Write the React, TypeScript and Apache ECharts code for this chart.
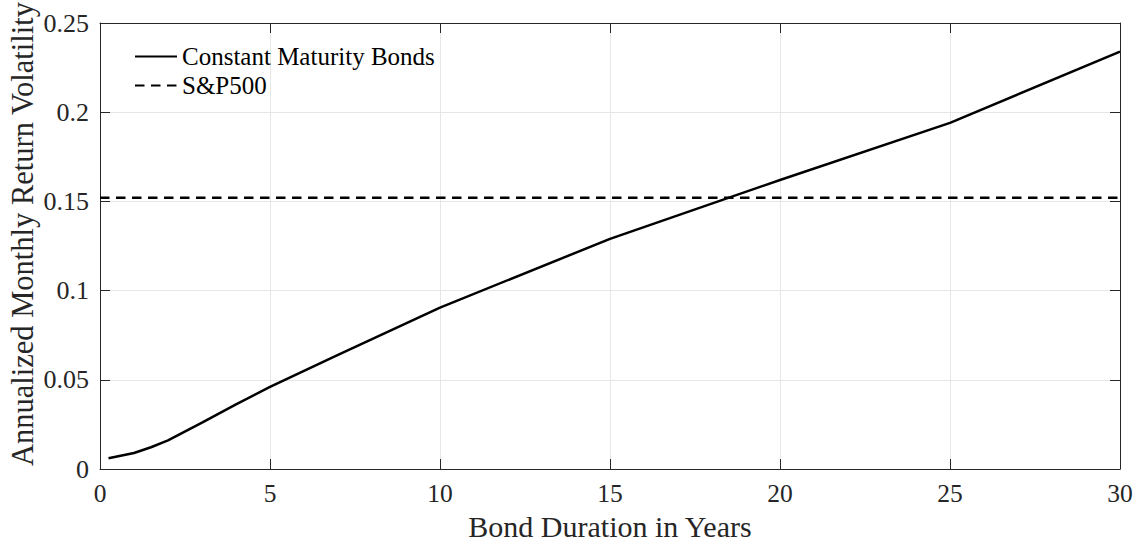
import React, { useEffect, useRef } from "react";
import * as echarts from "echarts";

const durations = [0.25, 0.5, 1, 1.5, 2, 3, 4, 5, 7, 10, 15, 20, 25, 30];
const bondVol = [0.006, 0.007, 0.009, 0.0122, 0.016, 0.026, 0.0362, 0.046, 0.064, 0.0905, 0.129, 0.162, 0.194, 0.234];
const spX = [0, 30];
const spVol = [0.152, 0.152];
const xTicks = [0, 5, 10, 15, 20, 25, 30];
const yTicks = [0, 0.05, 0.1, 0.15, 0.2, 0.25];
const seriesNames = ["Constant Maturity Bonds", "S&P500"];

const FONT = "Liberation Serif";

export default function App() {
  const ref = useRef<HTMLDivElement>(null);
  useEffect(() => {
    const chart = echarts.init(ref.current!, null, { renderer: "svg" });
    const axisLine = () => ({ show: true, onZero: false, lineStyle: { color: "#262626", width: 1 } });
    const tick = () => ({ show: true, inside: true, length: 10, lineStyle: { color: "#262626", width: 1 } });
    chart.setOption({
      animation: false,
      backgroundColor: "#ffffff",
      textStyle: { fontFamily: FONT },
      grid: { left: 100, right: 16, top: 23, bottom: 74, containLabel: false, outerBoundsMode: "none" },
      legend: {
        left: 129,
        top: 39,
        orient: "vertical",
        itemWidth: 42,
        itemHeight: 20,
        itemGap: 4,
        itemStyle: { opacity: 0 },
        textStyle: { fontFamily: FONT, fontSize: 25, color: "#000" },
        data: seriesNames,
      },
      xAxis: [
        {
          type: "value",
          min: xTicks[0],
          max: xTicks[xTicks.length - 1],
          interval: 5,
          position: "bottom",
          name: "Bond Duration in Years",
          nameLocation: "middle",
          nameGap: 43,
          nameMoveOverlap: false,
          nameTextStyle: { fontFamily: FONT, fontSize: 30, lineHeight: 28, color: "#262626" },
          axisLine: axisLine(),
          axisTick: tick(),
          axisLabel: { fontFamily: FONT, fontSize: 25.5, lineHeight: 20, color: "#262626", margin: 14 },
          splitLine: { show: true, lineStyle: { color: "#e6e6e6", width: 1 } },
        },
        {
          type: "value",
          min: xTicks[0],
          max: xTicks[xTicks.length - 1],
          interval: 5,
          position: "top",
          axisLine: axisLine(),
          axisTick: tick(),
          axisLabel: { show: false },
          splitLine: { show: false },
        },
      ],
      yAxis: [
        {
          type: "value",
          min: yTicks[0],
          max: yTicks[yTicks.length - 1],
          interval: 0.05,
          position: "left",
          name: "Annualized Monthly Return Volatility",
          nameLocation: "middle",
          nameGap: 62,
          nameMoveOverlap: false,
          nameTextStyle: { fontFamily: FONT, fontSize: 30.5, color: "#262626", padding: [0, 0, 0, 24] },
          axisLine: axisLine(),
          axisTick: tick(),
          axisLabel: { fontFamily: FONT, fontSize: 26, color: "#262626", margin: 11 },
          splitLine: { show: true, lineStyle: { color: "#e6e6e6", width: 1 } },
        },
        {
          type: "value",
          min: yTicks[0],
          max: yTicks[yTicks.length - 1],
          interval: 0.05,
          position: "right",
          axisLine: axisLine(),
          axisTick: tick(),
          axisLabel: { show: false },
          splitLine: { show: false },
        },
      ],
      series: [
        {
          name: seriesNames[0],
          type: "line",
          xAxisIndex: 0,
          yAxisIndex: 0,
          showSymbol: false,
          symbol: "none",
          data: durations.map((d, i) => [d, bondVol[i]]),
          lineStyle: { color: "#000", width: 2.5, type: "solid" },
          itemStyle: { color: "#000" },
          z: 5,
        },
        {
          name: seriesNames[1],
          type: "line",
          xAxisIndex: 0,
          yAxisIndex: 0,
          showSymbol: false,
          symbol: "none",
          data: spX.map((d, i) => [d, spVol[i]]),
          lineStyle: { color: "#000", width: 2.5, type: [9.5, 6.5] },
          itemStyle: { color: "#000" },
          z: 4,
        },
      ],
    });
    return () => chart.dispose();
  }, []);
  return (
    <div
      ref={ref}
      style={{ position: "fixed", left: 0, top: 0, width: 1136, height: 543 }}
    />
  );
}
